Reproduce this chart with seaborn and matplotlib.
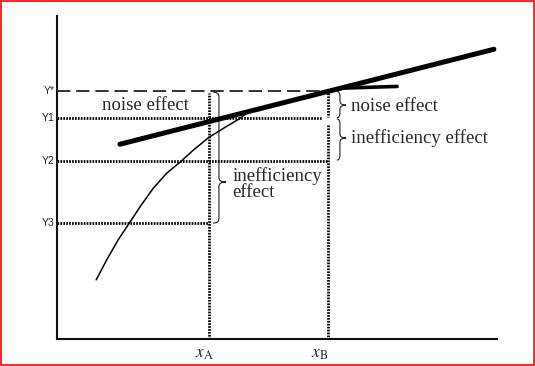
import matplotlib
matplotlib.use("Agg")
import matplotlib.pyplot as plt
import seaborn as sns
import pandas as pd
from matplotlib.path import Path
from matplotlib.patches import PathPatch, Rectangle

# output levels on the y axis
level_names = ["Y*", "Y1", "Y2", "Y3"]
level_values = [76.9, 68.4, 55.1, 35.9]

# input levels on the x axis
input_names = ["$x_\\mathrm{A}$", "$x_\\mathrm{B}$"]
input_values = [34.6, 61.6]

# deterministic frontier (thick line)
frontier_x = [14.3, 99.3]
frontier_y = [60.3, 89.7]

# observed production curve (thin line)
curve_x = [8.9, 11.3, 13.9, 16.4, 18.9, 21.9, 24.9, 28.1, 31.0, 34.5, 37.8, 41.6, 43.1]
curve_y = [18.3, 24.5, 30.7, 35.8, 41.0, 46.7, 51.3, 54.9, 58.5, 62.4, 65.2, 68.3, 69.9]


def brace(ax, x_end, x_body, x_tip, y_top, y_tip, y_bot, r=1.3):
    verts = [(x_end, y_top), (x_body, y_top), (x_body, y_top - r),
             (x_body, y_tip + r), (x_body, y_tip), (x_tip, y_tip),
             (x_body, y_tip), (x_body, y_tip - r),
             (x_body, y_bot + r), (x_body, y_bot), (x_end, y_bot)]
    codes = [Path.MOVETO, Path.CURVE3, Path.CURVE3,
             Path.LINETO, Path.CURVE3, Path.CURVE3,
             Path.CURVE3, Path.CURVE3,
             Path.LINETO, Path.CURVE3, Path.CURVE3]
    ax.add_patch(PathPatch(Path(verts, codes), fill=False, lw=0.8,
                           ec="#222222", clip_on=False))


sns.set_style("white")
serif = "Liberation Serif"

fig = plt.figure(figsize=(5.35, 3.66), dpi=100)
ax = fig.add_axes([57 / 535, 27 / 366, 440 / 535, 323 / 366])
ax.set_xlim(0, 100)
ax.set_ylim(0, 100)
ax.set_xticks([])
ax.set_yticks([])
for side in ["top", "right"]:
    ax.spines[side].set_visible(False)
for side in ["left", "bottom"]:
    ax.spines[side].set_linewidth(1.5)
    ax.spines[side].set_color("#111111")

y_star, y1, y2, y3 = level_values
xa, xb = input_values

# dotted guides
dot = dict(color="black", lw=2.0, linestyle=(0, (0.6, 0.45)))
ax.plot([0, 60.3], [y1, y1], **dot)
ax.plot([0, xb], [y2, y2], **dot)
ax.plot([0, xa], [y3, y3], **dot)
ax.plot([xa, xa], [0, y_star - 0.8], **dot)
ax.plot([xb, xb], [66.3, 0], **dot)
ax.plot([xb, xb], [y_star - 0.8, y1 + 0.3], **dot)

# dashed Y* line
ax.plot([0, 62.0], [y_star, y_star], color="#111111", lw=1.2,
        linestyle=(0, (8, 3.5)))

# curves
df_front = pd.DataFrame({"x": frontier_x, "y": frontier_y})
sns.lineplot(data=df_front, x="x", y="y", ax=ax, color="black", lw=3.6,
             solid_capstyle="round")
ax.plot([65.5, 77.3], [77.7, 78.2], color="black", lw=2.6,
        solid_capstyle="round")
df_curve = pd.DataFrame({"x": curve_x, "y": curve_y})
sns.lineplot(data=df_curve, x="x", y="y", ax=ax, color="black", lw=1.1)

# braces
brace(ax, 35.5, 36.8, 38.4, y_star - 0.5, 48.6, y3)
brace(ax, 63.6, 64.3, 65.7, y_star - 0.3, 72.4, y1 + 0.1)
brace(ax, 63.6, 64.3, 65.7, y1 - 0.3, 62.2, y2 + 0.3)

# effect labels
ax.text(20.1, 72.4, "noise effect", family=serif, fontsize=13.5,
        ha="center", va="center")
ax.text(66.8, 72.1, "noise effect", family=serif, fontsize=13.5,
        ha="left", va="center")
ax.text(66.8, 62.1, "inefficiency effect", family=serif, fontsize=13.5,
        ha="left", va="center")
ax.text(39.8, 48.0, "inefficiency\neffect", family=serif, fontsize=13.5,
        ha="left", va="center", linespacing=0.95)

# axis labels
for name, val in zip(level_names, level_values):
    ax.text(-0.5, val, name, family="Liberation Sans", fontsize=7.5,
            ha="right", va="center", clip_on=False)

plt.rcParams["mathtext.fontset"] = "stix"
for name, val, off in zip(input_names, input_values, [-1.1, -2.0]):
    ax.text(val + off, -4.2, name, fontsize=12.5, ha="center", va="center",
            clip_on=False)

ax.set_xlabel("")
ax.set_ylabel("")

fig.add_artist(Rectangle((1 / 535, 1.5 / 366), 533 / 535, 363.5 / 366,
                         transform=fig.transFigure, fill=False,
                         ec="red", lw=1.2))

plt.savefig("out.png", dpi=100)
plt.close()
